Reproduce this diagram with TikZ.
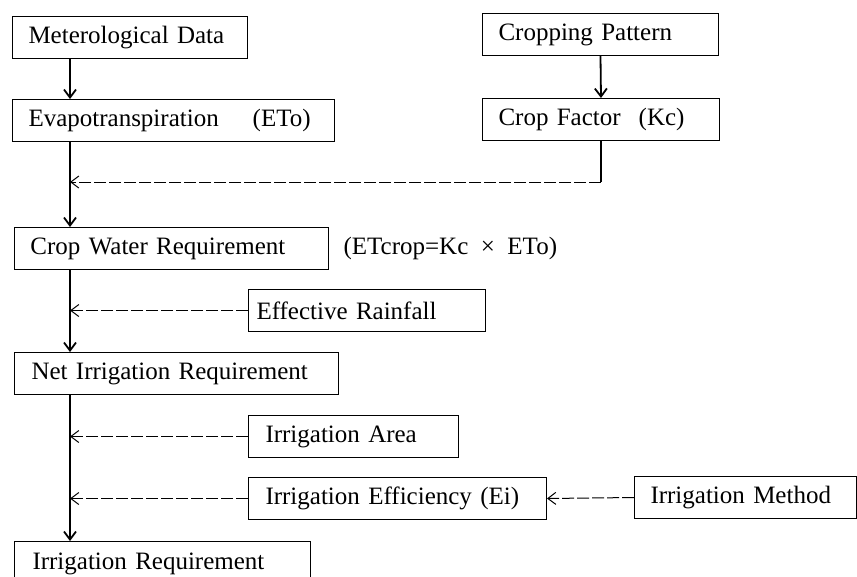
\documentclass[tikz,border=0pt]{standalone}
\usepackage{fontspec}
\setmainfont{Liberation Serif}
\usetikzlibrary{arrows.meta}
\begin{document}
\begin{tikzpicture}[x=1pt, y=-1pt, >={Straight Barb[length=8pt,width=12pt]},
    box/.style={draw, line width=1pt, anchor=north west, minimum height=42pt, inner xsep=16pt, text width=#1, align=left, font=\fontsize{25}{30}\selectfont},
    feed/.style={->, dash pattern=on 12pt off 3pt, line width=1pt},
    spn/.style={->, line width=1.8pt}]
\useasboundingbox (0,0) rectangle (857,576);
\coordinate (spine) at (70,0);
\coordinate (mrg) at (70,182);
% left column
\node[box=203] (met) at (12,16) {\mbox{Meterological Data}};
\node[box=290] (evap) at (12,99) {\mbox{Evapotranspiration\hspace{34pt}(ETo)}};
\node[box=282] (cwr) at (14,227) {Crop Water Requirement};
\node[box=290, inner xsep=17pt] (nir) at (14,352) {Net Irrigation Requirement};
\node[box=260, inner xsep=18pt, minimum height=44pt] (ir) at (14,541) {Irrigation Requirement};
% right column
\node[box=204] (cp) at (482,13) {Cropping Pattern};
\node[box=205] (kc) at (482,98) {\mbox{Crop Factor\hspace{18pt}(Kc)}};
\node[anchor=west, font=\fontsize{25}{30}\selectfont] (eq) at (340,248) {(ETcrop=Kc~~×~~ETo)};
\node[box=221, inner xsep=8pt] (rain) at (248,289) {Effective Rainfall};
\node[box=176, inner xsep=17pt] (area) at (248,415) {Irrigation Area};
\node[box=264, inner xsep=17pt] (eff) at (248,477) {Irrigation Efficiency (Ei)};
\node[box=190] (meth) at (634,476) {Irrigation Method};
% main line
\draw[spn] (met.south -| spine) -- (evap.north -| spine);
\draw[line width=1.8pt] (evap.south -| spine) -- (mrg);
\draw[spn] (mrg) -- (cwr.north -| spine);
\draw[spn] (cwr.south -| spine) -- (nir.north -| spine);
\draw[spn] (nir.south -| spine) -- (ir.north -| spine);
\draw[spn] (cp.south) -- (kc.north);
% inputs
\draw[line width=1.8pt] (kc.south) -- (kc.south |- mrg);
\draw[feed] (kc.south |- mrg) -- (mrg);
\draw[feed] (rain.west) -- (rain.west -| spine);
\draw[feed] (area.west) -- (area.west -| spine);
\draw[feed] (eff.west) -- (eff.west -| spine);
\draw[feed] (meth.west) -- (eff.east);
\end{tikzpicture}
\end{document}
